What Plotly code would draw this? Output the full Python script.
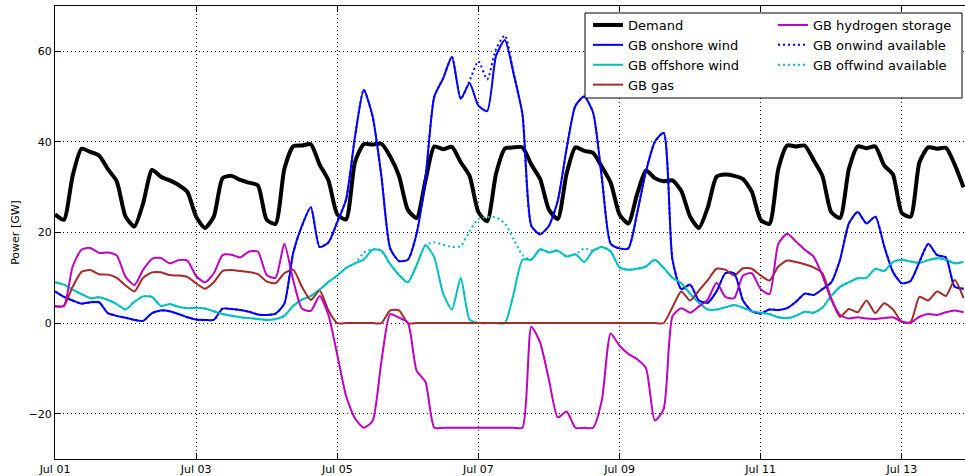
import pandas as pd
import plotly.graph_objects as go

# 3-hourly time stamps, Jul 01 00:00 .. Jul 13 21:00
times = pd.date_range("2013-07-01", periods=104, freq="3h")

demand = [
    24.0, 22.8, 32.5, 38.5, 37.8, 37.0, 34.0, 31.3,
    23.5, 21.3, 26.5, 33.8, 32.3, 31.5, 30.5, 29.0,
    23.5, 21.0, 23.5, 32.0, 32.5, 31.6, 31.0, 30.4,
    22.8, 21.9, 34.0, 39.0, 39.2, 39.5, 35.0, 31.5,
    24.0, 22.9, 35.5, 39.5, 39.4, 39.6, 36.8, 32.5,
    25.0, 23.2, 31.5, 39.0, 38.4, 38.9, 35.5, 32.5,
    24.5, 22.5, 33.0, 38.5, 38.8, 38.8, 35.0, 31.8,
    25.0, 23.0, 33.0, 38.8, 38.0, 37.6, 34.5, 31.0,
    24.0, 22.0, 28.5, 33.7, 32.0, 31.3, 31.5, 29.2,
    23.5, 21.0, 25.5, 32.3, 32.8, 32.5, 31.8, 29.0,
    22.8, 21.9, 34.0, 39.2, 39.0, 39.2, 36.0, 32.5,
    24.5, 23.2, 34.0, 39.0, 38.6, 39.0, 34.8, 32.8,
    24.3, 23.5, 35.5, 38.8, 38.5, 38.7, 35.0, 30.0,
]

onshore = [
    7.0, 5.8, 5.0, 4.3, 4.6, 4.6, 2.2, 1.6,
    1.2, 0.7, 0.5, 2.2, 2.8, 2.6, 2.0, 1.3,
    0.8, 0.7, 0.7, 3.2, 3.1, 2.9, 2.5, 1.9,
    1.8, 2.1, 4.3, 15.5, 21.5, 25.6, 16.8, 17.8,
    22.3, 27.3, 41.0, 51.5, 45.7, 32.5, 16.5, 13.7,
    14.0, 19.8, 32.0, 50.0, 54.0, 58.8, 49.5, 53.0,
    48.0, 46.8, 59.0, 62.5, 55.0, 46.0, 21.5, 19.6,
    21.5, 27.0, 38.5, 48.0, 50.0, 46.5, 32.0, 17.5,
    16.5, 16.5, 24.3, 33.5, 40.0, 42.0, 14.0, 7.5,
    8.5, 5.0, 4.5, 7.0, 11.0, 11.0, 5.0, 2.6,
    2.1, 3.0, 2.9, 3.3, 4.7, 6.5, 6.2, 7.5,
    9.0, 14.0, 22.0, 24.5, 22.0, 23.5, 17.0, 11.3,
    8.8, 9.3, 13.5, 17.5, 15.0, 14.5, 8.0, 7.6,
]

onwind_available = [
    7.0, 5.8, 5.0, 4.3, 4.6, 4.6, 2.2, 1.6,
    1.2, 0.7, 0.5, 2.2, 2.8, 2.6, 2.0, 1.3,
    0.8, 0.7, 0.7, 3.2, 3.1, 2.9, 2.5, 1.9,
    1.8, 2.1, 4.3, 15.5, 21.5, 25.6, 16.8, 17.8,
    22.3, 27.3, 41.0, 51.5, 45.7, 32.5, 16.5, 13.7,
    14.0, 19.8, 32.0, 50.0, 54.0, 58.8, 49.5, 53.5,
    57.8, 53.8, 60.5, 63.5, 55.0, 46.0, 21.5, 19.6,
    21.5, 27.0, 38.5, 48.0, 50.0, 46.5, 32.0, 17.5,
    16.5, 16.5, 24.3, 33.5, 40.0, 42.0, 14.0, 7.5,
    8.5, 5.0, 4.5, 7.0, 11.0, 11.0, 5.0, 2.6,
    2.1, 3.0, 2.9, 3.3, 4.7, 6.5, 6.2, 7.5,
    9.0, 14.0, 22.0, 24.5, 22.0, 23.5, 17.0, 11.3,
    8.8, 9.3, 13.5, 17.5, 15.0, 14.5, 8.0, 7.6,
]

offshore = [
    9.0, 8.5, 7.4, 6.4, 5.5, 5.7, 5.1, 4.2,
    3.0, 4.7, 5.9, 5.8, 3.8, 4.2, 3.6, 3.3,
    3.4, 3.2, 2.6, 2.0, 1.6, 1.3, 1.1, 0.9,
    0.7, 0.9, 1.6, 3.8, 5.2, 6.0, 7.4, 9.1,
    10.5, 12.2, 13.2, 14.0, 16.2, 16.0, 13.0, 10.6,
    9.0, 12.8, 17.2, 14.5, 6.5, 3.0, 10.0, 0.8,
    0.0, 0.0, 0.0, 0.0, 6.5, 14.0, 14.0, 16.3,
    15.6, 16.0, 14.7, 15.2, 13.5, 16.0, 16.8, 15.8,
    12.3, 11.8, 12.0, 12.5, 14.0, 12.2, 10.0, 8.8,
    6.5, 4.5, 3.0, 3.0, 3.5, 4.0, 3.4, 2.6,
    2.3, 2.0, 1.3, 1.1, 1.6, 2.5, 2.3, 3.4,
    6.0, 8.0, 9.0, 9.9, 10.0, 12.0, 11.5, 13.5,
    14.0, 13.6, 13.3, 13.9, 14.3, 14.0, 13.2, 13.5,
]

offwind_available = [
    9.0, 8.5, 7.4, 6.4, 5.5, 5.7, 5.1, 4.2,
    3.0, 4.7, 5.9, 5.8, 3.8, 4.2, 3.6, 3.3,
    3.4, 3.2, 2.6, 2.0, 1.6, 1.3, 1.1, 0.9,
    0.7, 0.9, 1.6, 3.8, 5.2, 6.0, 7.4, 9.1,
    10.5, 12.2, 13.2, 15.5, 16.4, 16.0, 13.0, 10.6,
    9.0, 12.8, 17.2, 17.8, 17.3, 16.8, 17.0, 20.3,
    23.0, 23.4, 23.3, 22.0, 18.5, 15.0, 14.0, 16.3,
    15.6, 16.0, 14.7, 15.2, 16.5, 16.0, 16.8, 15.8,
    12.3, 11.8, 12.0, 12.5, 14.0, 12.2, 10.0, 8.8,
    6.5, 4.5, 3.0, 3.0, 3.5, 4.0, 3.4, 2.6,
    2.3, 2.0, 1.3, 1.1, 1.6, 2.5, 2.3, 3.4,
    6.0, 8.0, 9.0, 9.9, 10.0, 12.0, 11.5, 13.5,
    14.0, 13.6, 13.3, 13.9, 14.3, 14.0, 13.2, 13.5,
]

gas = [
    3.7, 3.8, 8.0, 11.3, 11.7, 10.8, 10.7, 10.0,
    8.3, 7.0, 10.0, 11.2, 11.2, 10.6, 10.5, 10.2,
    8.8, 7.6, 9.0, 11.5, 11.7, 11.5, 11.3, 10.8,
    9.2, 8.8, 11.0, 11.8, 8.0, 5.1, 7.2, 2.8,
    0.0, 0.0, 0.0, 0.0, 0.0, 0.0, 2.8, 2.8,
    0.0, 0.0, 0.0, 0.0, 0.0, 0.0, 0.0, 0.0,
    0.0, 0.0, 0.0, 0.0, 0.0, 0.0, 0.0, 0.0,
    0.0, 0.0, 0.0, 0.0, 0.0, 0.0, 0.0, 0.0,
    0.0, 0.0, 0.0, 0.0, 0.0, 0.0, 3.5, 7.0,
    5.0, 7.2, 9.5, 12.0, 11.8, 10.5, 12.1, 12.0,
    10.5, 9.4, 12.5, 13.8, 13.5, 13.0, 12.3, 11.0,
    5.5, 1.4, 3.1, 2.4, 5.0, 2.2, 4.4, 3.0,
    0.3, 0.2, 5.8, 5.0, 7.0, 6.0, 9.5, 5.5,
]

hydrogen = [
    3.7, 3.8, 12.5, 16.2, 16.6, 15.5, 15.6, 14.9,
    10.2, 8.4, 11.8, 14.2, 14.4, 13.2, 13.9, 13.8,
    10.4, 9.0, 11.0, 15.0, 15.1, 14.5, 15.8, 15.8,
    10.6, 10.0, 17.5, 9.5, 3.2, 2.7, 6.0, 1.8,
    -7.0, -16.1, -21.0, -23.1, -21.6, -8.5, 2.0, 1.2,
    0.1, -10.5, -13.0, -23.1, -23.1, -23.1, -23.1, -23.1,
    -23.1, -23.1, -23.1, -23.1, -23.1, -23.1, -0.8, -4.3,
    -12.5, -20.8, -19.5, -23.1, -23.1, -23.1, -17.0, -2.3,
    -5.0, -6.8, -8.0, -10.0, -21.5, -19.0, 1.5, 3.3,
    2.3, 3.7, 5.2, 8.9, 5.8, 5.5, 10.5, 11.0,
    7.5, 6.4, 17.5, 19.7, 18.0, 16.2, 14.7, 10.5,
    5.2, 1.8, 1.0, 1.3, 1.0, 0.9, 1.1, 1.3,
    0.3, 0.1, 1.4, 2.0, 1.8, 2.4, 2.8, 2.4,
]

y_ticks = [-20, 0, 20, 40, 60]
x_tick_dates = pd.date_range("2013-07-01", periods=7, freq="2D")

FONT = "DejaVu Sans"
series = [
    ("Demand", demand, "#000000", 4, "solid", "legend", 1),
    ("GB onshore wind", onshore, "#0000ff", 2, "solid", "legend", 2),
    ("GB offshore wind", offshore, "#00bfbf", 2, "solid", "legend", 3),
    ("GB gas", gas, "#a52a2a", 2, "solid", "legend", 4),
    ("GB hydrogen storage", hydrogen, "#bf00bf", 2, "solid", "legend2", 5),
    ("GB onwind available", onwind_available, "#0000ff", 2, "2px,3px", "legend2", 6),
    ("GB offwind available", offwind_available, "#00bfbf", 2, "2px,3px", "legend2", 7),
]

fig = go.Figure()
for name, vals, color, width, dash, leg, rank in series:
    fig.add_trace(go.Scatter(
        x=times, y=vals, name=name, mode="lines",
        line=dict(color=color, width=width, dash=dash, shape="spline", smoothing=0.6),
        legend=leg, legendrank=rank,
    ))

W, H = 965, 476
L, R, T, B = 55, 0, 6, 17
pw, ph = W - L - R, H - T - B

def px_x(x):
    return (x - L) / pw

def px_y(y):
    return 1 - (y - T) / ph

fig.add_shape(type="rect", xref="paper", yref="paper",
              x0=px_x(585), x1=px_x(962), y0=px_y(98), y1=px_y(13),
              fillcolor="white", line=dict(color="black", width=1), layer="above")

legend_common = dict(
    bgcolor="rgba(0,0,0,0)", borderwidth=0,
    font=dict(family=FONT, size=13, color="black"),
    xanchor="left", yanchor="top", tracegroupgap=0,
)

fig.update_layout(
    width=W, height=H,
    margin=dict(l=L, r=R, t=T, b=B, autoexpand=False),
    paper_bgcolor="white", plot_bgcolor="white",
    font=dict(family=FONT, size=11, color="black"),
    showlegend=True,
    legend=dict(x=px_x(588), y=px_y(10), **legend_common),
    legend2=dict(x=px_x(773), y=px_y(10), **legend_common),
    xaxis=dict(
        range=["2013-07-01 00:00", "2013-07-13 21:30"],
        tickvals=list(x_tick_dates), tickformat="%b %d",
        showgrid=True, gridcolor="black", gridwidth=1, griddash="1px,3px",
        showline=True, linecolor="black", linewidth=1, mirror="ticks",
        ticks="inside", ticklen=6, tickcolor="black",
        zeroline=False, tickfont=dict(family=FONT, size=11, color="black"),
    ),
    yaxis=dict(
        range=[-30, 70], tickvals=y_ticks,
        showgrid=True, gridcolor="black", gridwidth=1, griddash="1px,3px",
        showline=True, linecolor="black", linewidth=1,
        ticks="inside", ticklen=6, tickcolor="black",
        zeroline=False, tickfont=dict(family=FONT, size=11, color="black"),
        title=dict(text="Power [GW]", font=dict(family=FONT, size=11, color="black"), standoff=6),
    ),
)

fig.write_html(
    "out.html",
    config={"displayModeBar": False},
    post_script="document.body.style.margin='0';document.body.style.overflow='hidden';",
)
